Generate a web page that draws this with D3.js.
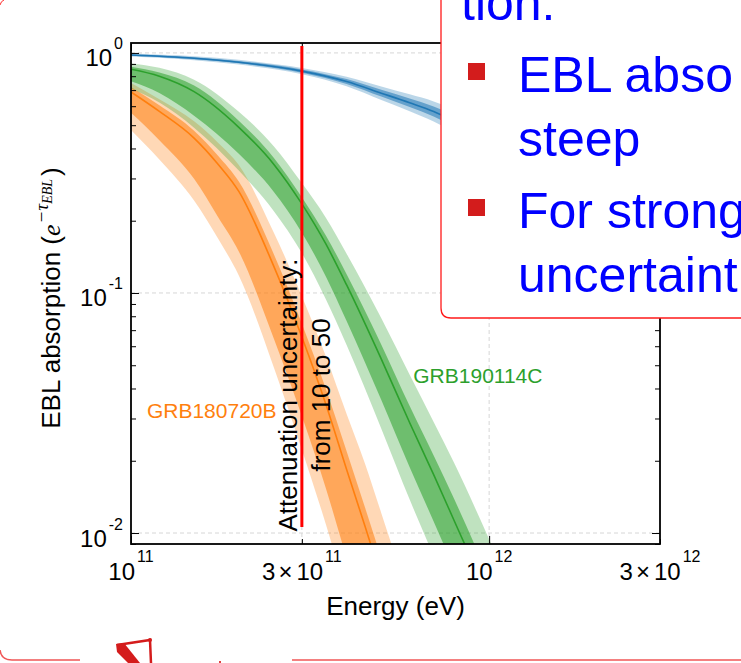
<!DOCTYPE html>
<html><head><meta charset="utf-8">
<script src="https://cdn.jsdelivr.net/npm/d3@7/dist/d3.min.js"></script>
<style>html,body{margin:0;padding:0;background:#fff;overflow:hidden}</style>
</head><body>
<svg id="c" width="741" height="663"></svg>
<script>
// ---------------- data ----------------
const blueE     = [1e11,1.5e11,2e11,3e11,4e11,5e11,6e11,7e11,8e11,1e12,1.5e12,2e12,3e12];
const blueMid   = [0.98,0.95,0.915,0.84,0.76,0.68,0.62,0.57,0.52,0.44,0.30,0.20,0.10];
const blueInLo  = [0.973,0.941,0.905,0.827,0.743,0.658,0.595,0.543,0.492,0.413,0.277,0.182,0.089];
const blueInHi  = [0.987,0.959,0.926,0.854,0.778,0.702,0.646,0.598,0.550,0.469,0.325,0.219,0.112];
const blueOutLo = [0.967,0.933,0.894,0.815,0.726,0.637,0.572,0.518,0.466,0.388,0.255,0.166,0.079];
const blueOutHi = [0.994,0.968,0.936,0.866,0.796,0.725,0.672,0.628,0.581,0.499,0.353,0.240,0.126];

const orangeE     = [1e11,1.2e11,1.5e11,1.75e11,2e11,2.5e11,3e11,3.5e11,4e11,4.5e11,5e11,6e11];
const orangeMid   = [0.688,0.571,0.442,0.344,0.265,0.130,0.0656,0.0344,0.0184,0.0107,0.0065,0.0027];
const orangeInLo  = [0.563,0.433,0.2988,0.2073,0.149,0.0651,0.0307,0.01537,0.00785,0.00436,0.00253,0.00098];
const orangeInHi  = [0.722,0.605,0.474,0.373,0.291,0.146,0.0745,0.0399,0.0219,0.0128,0.00785,0.0033];
const orangeOutLo = [0.478,0.360,0.2428,0.1685,0.1183,0.0494,0.02223,0.01088,0.00556,0.00316,0.00183,0.00068];
const orangeOutHi = [0.749,0.641,0.519,0.423,0.341,0.1794,0.0970,0.0545,0.0313,0.01948,0.0121,0.00526];

const greenE     = [1e11,1.2e11,1.5e11,2e11,2.5e11,3e11,3.5e11,4e11,5e11,6e11,7e11,8e11,1e12,1.2e12];
const greenMid   = [0.855,0.80,0.69,0.49,0.345,0.235,0.16,0.108,0.053,0.0288,0.0175,0.0112,0.0053,0.0028];
const greenInLo  = [0.762,0.681,0.548,0.380,0.2647,0.1783,0.1172,0.0764,0.0358,0.0188,0.01117,0.00707,0.00327,0.00169];
const greenInHi  = [0.875,0.828,0.731,0.5215,0.367,0.2506,0.1734,0.1198,0.0609,0.0338,0.02104,0.01378,0.00652,0.00352];
const greenOutLo = [0.711,0.621,0.4884,0.3237,0.2203,0.1466,0.0942,0.0607,0.0272,0.01378,0.0080,0.00489,0.00221,0.00111];
const greenOutHi = [0.904,0.867,0.774,0.569,0.410,0.287,0.206,0.1457,0.0784,0.0456,0.0290,0.01946,0.00943,0.00510];

const xTickValues = [1e11, 3e11, 1e12, 3e12];
const xTickMant   = ["", "3", "", "3"];
const xTickExp    = ["11", "11", "12", "12"];
const yTickValues = [1, 0.1, 0.01];
const yTickExp    = ["0", "-1", "-2"];

const attenE = 3e11;
const attenV = [0.0106, 1.07];
const labelNames = ["GRB180720B", "GRB190114C"];
const labelE = [1.108e11, 6.14e11];
const labelV = [0.0302, 0.042];

const bulletLines = ["EBL abso", "steep", "For strong", "uncertaint"];

// ---------------- layout ----------------
const P = {left:131, right:660, top:43, bottom:544};
const SANS = "'Liberation Sans', Arial, Helvetica, sans-serif";
const SERIF = "'Liberation Serif', 'DejaVu Serif', serif";

const svg = d3.select("#c");
svg.append("rect").attr("width",741).attr("height",663).attr("fill","#fff");

const x = d3.scaleLog().domain([1e11, 3e12]).range([P.left, P.right]);
const y = d3.scaleLog().domain([0.009, 1.1]).range([P.bottom, P.top]);

svg.append("defs").append("clipPath").attr("id","plotclip")
  .append("rect").attr("x",P.left).attr("y",P.top)
  .attr("width",P.right-P.left).attr("height",P.bottom-P.top);

// grid
const grid = svg.append("g").attr("stroke","#d6d6d6").attr("stroke-width",1).attr("stroke-dasharray","4,3");
yTickValues.forEach(v => grid.append("line").attr("x1",P.left).attr("x2",P.right).attr("y1",y(v)).attr("y2",y(v)));
[3e11, 1e12].forEach(v => grid.append("line").attr("y1",P.top).attr("y2",P.bottom).attr("x1",x(v)).attr("x2",x(v)));

// bands
const plot = svg.append("g").attr("clip-path","url(#plotclip)");
function band(E, lo, hi, color, op) {
  const a = d3.area().x((d,i)=>x(E[i])).y0((d,i)=>y(lo[i])).y1((d,i)=>y(hi[i])).curve(d3.curveMonotoneX);
  plot.append("path").attr("d", a(E)).attr("fill", color).attr("fill-opacity", op).attr("stroke","none");
}
function line(E, mid, color) {
  const l = d3.line().x((d,i)=>x(E[i])).y((d,i)=>y(mid[i])).curve(d3.curveMonotoneX);
  plot.append("path").attr("d", l(E)).attr("fill","none").attr("stroke", color).attr("stroke-width",1.6);
}
const series = [
  {E:blueE, mid:blueMid, inLo:blueInLo, inHi:blueInHi, outLo:blueOutLo, outHi:blueOutHi, c:"#1f77b4"},
  {E:orangeE, mid:orangeMid, inLo:orangeInLo, inHi:orangeInHi, outLo:orangeOutLo, outHi:orangeOutHi, c:"#ff7f0e"},
  {E:greenE, mid:greenMid, inLo:greenInLo, inHi:greenInHi, outLo:greenOutLo, outHi:greenOutHi, c:"#2ca02c"}
];
series.forEach(s => {
  band(s.E, s.outLo, s.outHi, s.c, 0.3);
  band(s.E, s.inLo, s.inHi, s.c, 0.55);
  line(s.E, s.mid, s.c);
});

// axes (inward ticks)
const yMinor = y.ticks().filter(v => !yTickValues.some(t => Math.abs(t - v) / t < 1e-6));
function addAxis(axis, tx, ty) {
  const g = svg.append("g").attr("transform", `translate(${tx},${ty})`).call(axis);
  g.select(".domain").remove();
  g.selectAll(".tick line").attr("stroke","#000").attr("stroke-width",1);
  g.selectAll("text").remove();
}
addAxis(d3.axisLeft(y).tickValues(yTickValues).tickSize(-8).tickFormat(""), P.left, 0);
addAxis(d3.axisLeft(y).tickValues(yMinor).tickSize(-5).tickFormat(""), P.left, 0);
addAxis(d3.axisRight(y).tickValues(yTickValues).tickSize(-8).tickFormat(""), P.right, 0);
addAxis(d3.axisRight(y).tickValues(yMinor).tickSize(-5).tickFormat(""), P.right, 0);
addAxis(d3.axisBottom(x).tickValues([1e11, 1e12]).tickSize(-8).tickFormat(""), 0, P.bottom);
addAxis(d3.axisBottom(x).tickValues([3e11, 3e12]).tickSize(-5).tickFormat(""), 0, P.bottom);
addAxis(d3.axisTop(x).tickValues([1e11, 1e12]).tickSize(-8).tickFormat(""), 0, P.top);
addAxis(d3.axisTop(x).tickValues([3e11, 3e12]).tickSize(-5).tickFormat(""), 0, P.top);

// frame
svg.append("rect").attr("x",P.left).attr("y",P.top).attr("width",P.right-P.left).attr("height",P.bottom-P.top)
  .attr("fill","none").attr("stroke","#000").attr("stroke-width",1.8);

// tick labels
xTickValues.forEach((v,i) => {
  const t = svg.append("text").attr("x", x(v)).attr("y", P.bottom + 36).attr("text-anchor","middle")
    .attr("font-family", SANS).attr("font-size", 24).attr("fill","#000");
  if (xTickMant[i]) {
    t.append("tspan").text(xTickMant[i]);
    t.append("tspan").attr("dx", 3).text("\u00d7");
    t.append("tspan").attr("dx", 4).text("10");
  } else {
    t.append("tspan").text("10");
  }
  t.append("tspan").attr("dx", 2).attr("dy", -18).attr("font-size", 16).text(xTickExp[i]);
});
yTickValues.forEach((v,i) => {
  const t = svg.append("text").attr("x", P.left - 8).attr("y", y(v) + 13.5).attr("text-anchor","end")
    .attr("font-family", SANS).attr("font-size", 24).attr("fill","#000");
  t.append("tspan").text("10");
  t.append("tspan").attr("dx", 2).attr("dy", -17).attr("font-size", 16).text(yTickExp[i]);
});

// axis titles
svg.append("text").attr("x", (P.left + P.right) / 2).attr("y", 615).attr("text-anchor","middle")
  .attr("font-family", SANS).attr("font-size", 26).attr("fill","#000").text("Energy (eV)");
const yt = svg.append("text").attr("transform","translate(60,298) rotate(-90)").attr("text-anchor","middle")
  .attr("font-family", SANS).attr("font-size", 26).attr("fill","#000");
yt.append("tspan").text("EBL absorption (");
yt.append("tspan").attr("font-family", SERIF).attr("font-style","italic").text("e");
yt.append("tspan").attr("font-family", SERIF).attr("font-style","italic").attr("font-size",19).attr("dy",-12).attr("dx",1).text("\u2212\u03c4");
yt.append("tspan").attr("font-family", SERIF).attr("font-style","italic").attr("font-size",14).attr("dy",4).text("EBL");
yt.append("tspan").attr("dy",8).attr("dx",3).text(")");

// series labels
const labelColors = ["#ff7f0e", "#2ca02c"];
labelNames.forEach((n,i) => {
  svg.append("text").attr("x", x(labelE[i])).attr("y", y(labelV[i])).attr("font-family", SANS)
    .attr("font-size", 21).attr("fill", labelColors[i]).text(n);
});

// attenuation marker line + text
svg.append("path").attr("d", d3.line()([[x(attenE), y(attenV[0])],[x(attenE), y(attenV[1])]]))
  .attr("stroke","#ff0000").attr("stroke-width",3).attr("fill","none");
const at = svg.append("text").attr("transform", `translate(${x(attenE)},395) rotate(-90)`)
  .attr("text-anchor","middle").attr("font-family", SANS).attr("font-size", 26).attr("fill","#000");
at.append("tspan").attr("x",0).attr("y",-5).text("Attenuation uncertainty:");
at.append("tspan").attr("x",0).attr("y",28).text("from 10 to 50");

// slide call-out box
svg.append("path").attr("d","M441,-5 L441,308 Q441,318 451,318 L745,318 L745,-5 Z")
  .attr("fill","#fff").attr("stroke","#ff1a1a").attr("stroke-width",1.3);
const box = svg.append("g").attr("font-family", SANS).attr("font-size", 50).attr("fill","#0000ff");
box.append("text").attr("x",461).attr("y",20).text("tion:");
const lineY = [92, 156, 228, 292];
bulletLines.forEach((s,i) => box.append("text").attr("x",518).attr("y",lineY[i]).text(s));
[63, 199].forEach(by => svg.append("rect").attr("x",468).attr("y",by).attr("width",17).attr("height",17).attr("fill","#d31c1c"));

// slide decorations at the bottom
const deco = svg.append("g").attr("stroke","#f05656").attr("stroke-width",1.5).attr("fill","none");
deco.append("path").attr("d","M0,650 Q1,660 12,660 L80,660");
deco.append("path").attr("d","M292,660 L741,660");
svg.append("path").attr("d","M0,5 Q1,1 4,0").attr("stroke","#ff3030").attr("fill","none");
svg.append("path").attr("d","M117,645 L150,640 L151,663").attr("stroke","#d41c1c").attr("stroke-width",2.5).attr("fill","none");
svg.append("path").attr("d","M116,644 L124,643 L140,663 L128,663 L117,652 Z").attr("fill","#d41c1c");
svg.append("circle").attr("cx",150).attr("cy",640).attr("r",2).attr("fill","#d41c1c");
svg.append("rect").attr("x",219).attr("y",661).attr("width",2).attr("height",2).attr("fill","#e04040");
</script>
</body></html>
